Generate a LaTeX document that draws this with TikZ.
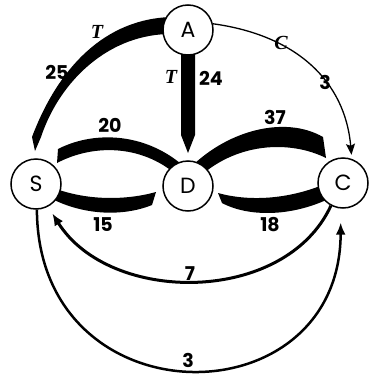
\documentclass[tikz,border=0pt]{standalone}
\usepackage{fontspec}
\setmainfont{Poppins}
\newfontfamily\modefont{Liberation Serif}
\usetikzlibrary{arrows.meta,calc,backgrounds}

\begin{document}
\begin{tikzpicture}[x=1pt, y=-1pt,
  station/.style={circle, draw, line width=1.5pt, fill=white, minimum size=50pt,
    inner sep=0pt, font=\fontsize{22}{22}\selectfont},
  flow/.style={fill=black, draw=none},
  trip/.style={-{Latex[length=12pt,width=10pt]}, line width=#1},
  numlabel/.style={font=\fontsize{19}{19}\selectfont\bfseries, inner sep=0pt},
  modelabel/.style={font=\modefont\fontsize{20}{20}\selectfont\bfseries\itshape, inner sep=0pt}
]
\useasboundingbox (0,0) rectangle (369,375);

% Stations
\node[station] (A) at (188,30) {A};
\node[station] (S) at (36,184) {S};
\node[station] (D) at (188,186) {D};
\node[station] (C) at (343,183) {C};

% Thick flows (under the stations)
\begin{scope}[on background layer]
% A to S
\fill[flow] ($(A)+(-15,-13)$) .. controls (105,18) and (58,68) .. ($(S)+(-4,-47)$)
  -- ($(S)+(-1,-33)$) -- ($(S)+(5,-47)$)
  .. controls (60,80) and (110,33) .. ($(A)+(-15,4)$) -- cycle;
% A to D
\fill[flow] ($(A)+(-7,10)$) -- ($(D)+(-7,-51)$) -- ($(D)+(0,-33)$)
  -- ($(D)+(7,-51)$) -- ($(A)+(7,10)$) -- cycle;
% D to S
\fill[flow] ($(S)+(22,-35)$) .. controls (95,130) and (150,132) .. ($(D)+(2,-14)$)
  -- ($(D)+(-8,-8)$) .. controls (145,145) and (95,143) .. ($(S)+(21,-21)$) -- cycle;
% D to C
\fill[flow] ($(D)+(-2,-14)$) .. controls (225,130) and (285,115) .. ($(C)+(-20,-46)$)
  -- ($(C)+(-17,-25)$) .. controls (290,140) and (235,142) .. ($(D)+(8,-6)$) -- cycle;
% S to D
\fill[flow] ($(S)+(4,-2)$) .. controls (75,200) and (120,202) .. ($(D)+(-32,6)$)
  -- ($(D)+(-36,19)$) .. controls (120,218) and (75,215) .. ($(S)+(4,8)$) -- cycle;
% C to D
\fill[flow] ($(D)+(30,7)$) .. controls (250,202) and (295,200) .. ($(C)+(-5,-5)$)
  -- ($(C)+(2,7)$) .. controls (300,218) and (250,218) .. ($(D)+(34,17)$) -- cycle;
\end{scope}

% Thin trips
\draw[-{Stealth[length=11pt,width=9pt,inset=2pt]}, line width=1.3pt, shorten >=4pt]
  (A.14) .. controls (295,35) and (345,80) .. (C.70);
\draw[trip=3pt, shorten >=8pt] (C.242) .. controls (285,305) and (110,305) .. (S.-62);
\draw[trip=2.5pt, shorten >=14pt] (S.-88) .. controls (38,422) and (340,422) .. (C.-95);

% Labels
\node[modelabel] (mAS) at (97,32) {T};
\node[numlabel] (nAS) at (57,72) {25};
\node[modelabel] (mAD) at (171,77) {T};
\node[numlabel] (nAD) at (211,78) {24};
\node[modelabel] (mAC) at (281,43) {C};
\node[numlabel] (nAC) at (325,82) {3};
\node[numlabel] (nDS) at (110,125) {20};
\node[numlabel] (nDC) at (275,117) {37};
\node[numlabel] (nSD) at (103,225) {15};
\node[numlabel] (nCD) at (270,225) {18};
\node[numlabel] (nCS) at (190,274) {7};
\node[numlabel] (nSC) at (188,360) {3};

\end{tikzpicture}
\end{document}
